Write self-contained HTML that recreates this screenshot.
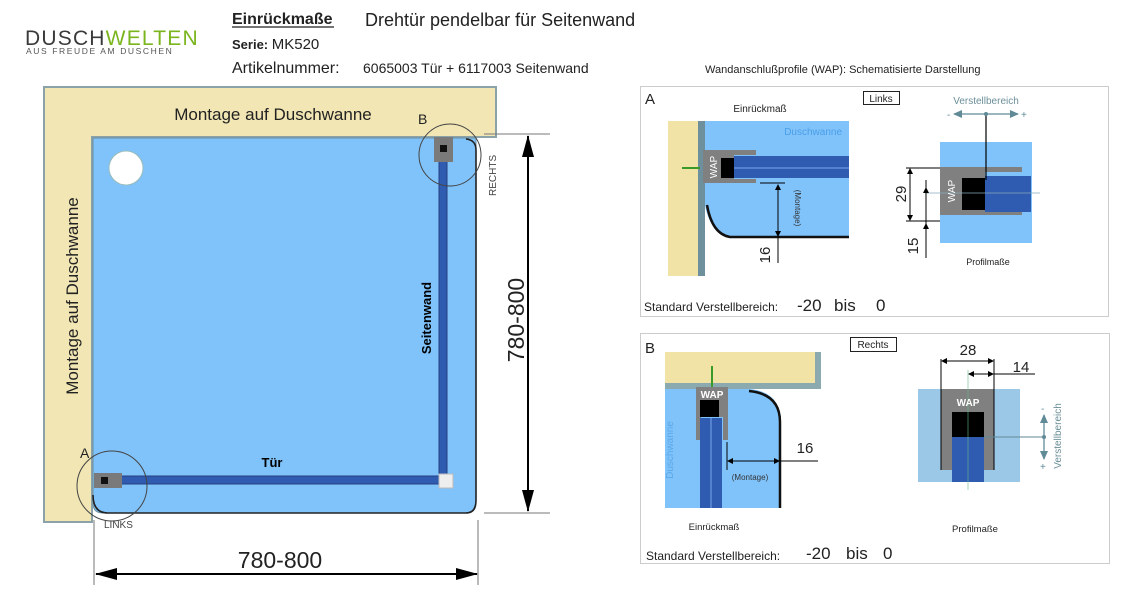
<!DOCTYPE html>
<html><head><meta charset="utf-8"><style>
html,body{margin:0;padding:0;background:#fff;}
svg{display:block;font-family:"Liberation Sans",sans-serif;}
</style></head><body>
<svg width="1146" height="614" viewBox="0 0 1146 614" xmlns="http://www.w3.org/2000/svg">
<defs>
<marker id="ar" markerWidth="10" markerHeight="8" refX="9" refY="4" orient="auto" markerUnits="userSpaceOnUse"><path d="M0,0 L10,4 L0,8 Z" fill="#000"/></marker>
<marker id="ab" markerWidth="22" markerHeight="12" refX="21" refY="6" orient="auto" markerUnits="userSpaceOnUse"><path d="M0,0 L22,6 L0,12 Z" fill="#000"/></marker>
<marker id="as" markerWidth="6" markerHeight="6" refX="5" refY="3" orient="auto" markerUnits="userSpaceOnUse"><path d="M0,0 L6,3 L0,6 Z" fill="#000"/></marker>
<marker id="ag" markerWidth="9" markerHeight="8" refX="8" refY="4" orient="auto" markerUnits="userSpaceOnUse"><path d="M0,0 L9,4 L0,8 Z" fill="#5f8a96"/></marker>
</defs>

<!-- header -->
<text x="25" y="45" font-size="21" fill="#3a3a3a" letter-spacing="1.2">DUSCH<tspan fill="#7ab51d">WELTEN</tspan></text>
<text x="26" y="54" font-size="8.5" fill="#555" letter-spacing="1.6">AUS FREUDE AM DUSCHEN</text>
<text x="232" y="24" font-size="16" font-weight="bold" fill="#222">Einrückmaße</text>
<line x1="232" y1="27" x2="334" y2="27" stroke="#222" stroke-width="1.2"/>
<text x="365" y="26" font-size="18" fill="#222">Drehtür pendelbar für Seitenwand</text>
<text x="232" y="49" font-size="13" font-weight="bold" fill="#222">Serie: <tspan font-weight="normal" font-size="15">MK520</tspan></text>
<text x="232" y="73" font-size="16" fill="#222">Artikelnummer:</text>
<text x="363" y="73" font-size="14" fill="#222">6065003 Tür + 6117003 Seitenwand</text>
<text x="705" y="73" font-size="11" fill="#222">Wandanschlußprofile (WAP): Schematisierte Darstellung</text>

<!-- left plan -->
<path d="M44,87 H496 V137 H92 V522 H44 Z" fill="#f1e6b4" stroke="#8aa2a8" stroke-width="2"/>
<path d="M93,138 H476 V503 Q476,513 466,513 H103 Q93,513 93,503 Z" fill="#80c3fb" stroke="#6d8fa0" stroke-width="1"/>
<path d="M93,495 Q93,513 108,513 H466 Q476,513 476,500 V150 Q476,140 466,139" fill="none" stroke="#222" stroke-width="1.6"/>
<circle cx="126" cy="168" r="17" fill="#fff" stroke="#9bb" stroke-width="1"/>
<text x="273" y="120" font-size="17" fill="#222" text-anchor="middle">Montage auf Duschwanne</text>
<text transform="translate(78,296) rotate(-90)" font-size="17" fill="#222" text-anchor="middle">Montage auf Duschwanne</text>
<!-- walls -->
<rect x="95" y="476" width="350" height="8" fill="#2f5cb0" stroke="#243f80" stroke-width="1"/>
<rect x="439" y="145" width="8" height="333" fill="#2f5cb0" stroke="#243f80" stroke-width="1"/>
<rect x="94" y="473" width="28" height="15" fill="#7a7a7a"/>
<rect x="101" y="477" width="7" height="7" fill="#111"/>
<rect x="434" y="137" width="19" height="25" fill="#7a7a7a"/>
<rect x="440" y="145" width="7" height="7" fill="#111"/>
<rect x="439" y="474" width="14" height="14" fill="#eee" stroke="#bbb"/>
<circle cx="112" cy="486" r="35" fill="none" stroke="#444" stroke-width="1"/>
<circle cx="450" cy="155" r="31" fill="none" stroke="#444" stroke-width="1"/>
<text x="80" y="458" font-size="14" fill="#222">A</text>
<text x="418" y="124" font-size="14" fill="#222">B</text>
<text x="104" y="528" font-size="10" fill="#444">LINKS</text>
<text transform="translate(496,196) rotate(-90)" font-size="10" fill="#444">RECHTS</text>
<text x="272" y="467" font-size="13" font-weight="bold" fill="#000" text-anchor="middle">Tür</text>
<text transform="translate(431,318) rotate(-90)" font-size="13" font-weight="bold" fill="#000" text-anchor="middle">Seitenwand</text>
<!-- dims -->
<line x1="484" y1="134" x2="550" y2="134" stroke="#777"/>
<line x1="484" y1="513" x2="550" y2="513" stroke="#777"/>
<line x1="528" y1="160" x2="528" y2="136" stroke="#000" stroke-width="2" marker-end="url(#ab)"/>
<line x1="528" y1="160" x2="528" y2="511" stroke="#000" stroke-width="2" marker-end="url(#ab)"/>
<text transform="translate(524,320) rotate(-90)" font-size="23" fill="#222" text-anchor="middle">780-800</text>
<line x1="94" y1="520" x2="94" y2="585" stroke="#777"/>
<line x1="478" y1="520" x2="478" y2="585" stroke="#777"/>
<line x1="280" y1="574" x2="96" y2="574" stroke="#000" stroke-width="2" marker-end="url(#ab)"/>
<line x1="280" y1="574" x2="477" y2="574" stroke="#000" stroke-width="2" marker-end="url(#ab)"/>
<text x="280" y="568" font-size="23" fill="#222" text-anchor="middle">780-800</text>

<!-- Panel A -->
<rect x="640.5" y="86.5" width="468" height="230" fill="#fff" stroke="#ccc"/>
<text x="645" y="104" font-size="15" fill="#222">A</text>
<text x="760" y="112" font-size="10" fill="#222" text-anchor="middle">Einrückmaß</text>
<rect x="863.5" y="91.5" width="36" height="13" fill="#fff" stroke="#222"/>
<text x="881" y="102" font-size="10" fill="#222" text-anchor="middle">Links</text>
<rect x="668" y="121" width="32" height="155" fill="#f1e2a6"/>
<rect x="698" y="121" width="7" height="155" fill="#6e8f9c"/>
<path d="M705,121 H849 V237 H705 Z" fill="#80c3fb"/>
<text x="842" y="135" font-size="10" fill="#4a9ee8" text-anchor="end">Duschwanne</text>
<path d="M705,205 Q710,235 735,237 H849 V276 H705 Z" fill="#fff"/>
<path d="M707,205 Q712,234 730,237 H849" fill="none" stroke="#111" stroke-width="2.5"/>
<line x1="682" y1="168" x2="700" y2="168" stroke="#3a9a2a" stroke-width="2"/>
<path d="M703,150 H756 V155 H734 V179 H756 V183 H703 Z" fill="#808080"/>
<rect x="721" y="158" width="13" height="20" fill="#000"/>
<rect x="734" y="156" width="115" height="22" fill="#2f5cb0"/>
<line x1="734" y1="168" x2="849" y2="168" stroke="#7aa7ee" stroke-width="1"/>
<text transform="translate(717,167) rotate(-90)" font-size="10" fill="#fff" text-anchor="middle">WAP</text>
<line x1="760" y1="183" x2="785" y2="183" stroke="#000"/>
<line x1="778" y1="230" x2="778" y2="185" stroke="#000" marker-end="url(#as)"/>
<line x1="778" y1="195" x2="778" y2="236" stroke="#000" marker-end="url(#as)"/>
<line x1="778" y1="236" x2="778" y2="263" stroke="#000"/>
<text transform="translate(795,208) rotate(90)" font-size="8" fill="#333" text-anchor="middle">(Montage)</text>
<text transform="translate(770,255) rotate(-90)" font-size="15" fill="#222" text-anchor="middle">16</text>
<!-- A right -->
<rect x="940" y="142" width="92" height="101" fill="#80c3fb"/>
<path d="M940,167 H1022 V172 H985 V210 H1022 V215 H940 Z" fill="#808080"/>
<rect x="962" y="178" width="23" height="32" fill="#000"/>
<rect x="985" y="176" width="46" height="36" fill="#2f5cb0"/>
<line x1="925" y1="193" x2="1040" y2="193" stroke="#8ab" stroke-width="0.8"/>
<text transform="translate(955,191) rotate(-90)" font-size="10" fill="#fff" text-anchor="middle">WAP</text>
<line x1="986" y1="114" x2="986" y2="180" stroke="#000" stroke-width="1.2"/>
<text x="986" y="104" font-size="10" fill="#6b8f98" text-anchor="middle">Verstellbereich</text>
<line x1="986" y1="114" x2="954" y2="114" stroke="#5f8a96" stroke-width="1.3" marker-end="url(#ag)"/>
<line x1="986" y1="114" x2="1018" y2="114" stroke="#5f8a96" stroke-width="1.3" marker-end="url(#ag)"/>
<circle cx="986" cy="114" r="2" fill="#5f8a96"/>
<text x="947" y="118" font-size="10" fill="#5f8a96">-</text>
<text x="1021" y="118" font-size="10" fill="#5f8a96">+</text>
<line x1="906" y1="168" x2="940" y2="168" stroke="#000"/>
<line x1="906" y1="221" x2="940" y2="221" stroke="#000"/>
<line x1="910" y1="190" x2="910" y2="169" stroke="#000" marker-end="url(#as)"/>
<line x1="910" y1="190" x2="910" y2="220" stroke="#000" marker-end="url(#as)"/>
<line x1="926" y1="180" x2="926" y2="258" stroke="#000"/>
<line x1="926" y1="190" x2="926" y2="188" stroke="#000" marker-end="url(#as)"/>
<line x1="926" y1="228" x2="926" y2="224" stroke="#000" marker-end="url(#as)"/>
<text transform="translate(906,194) rotate(-90)" font-size="15" fill="#222" text-anchor="middle">29</text>
<text transform="translate(918,246) rotate(-90)" font-size="15" fill="#222" text-anchor="middle">15</text>
<text x="988" y="265" font-size="9" fill="#222" text-anchor="middle">Profilmaße</text>
<text x="644" y="311" font-size="12" fill="#222">Standard Verstellbereich:</text>
<text x="797" y="311" font-size="17" fill="#222">-20</text>
<text x="834" y="311" font-size="17" fill="#222">bis</text>
<text x="876" y="311" font-size="17" fill="#222">0</text>

<!-- Panel B -->
<rect x="640.5" y="333.5" width="469" height="230" fill="#fff" stroke="#ccc"/>
<text x="645" y="353" font-size="15" fill="#222">B</text>
<rect x="850.5" y="337.5" width="46" height="14" fill="#fff" stroke="#222"/>
<text x="873" y="348" font-size="10" fill="#222" text-anchor="middle">Rechts</text>
<rect x="665" y="352" width="156" height="33" fill="#f1e2a6"/>
<path d="M665,383 H815 V352 H821 V389 H665 Z" fill="#8aaab0"/>
<path d="M665,389 H750 Q780,392 780,420 V508 H665 Z" fill="#80c3fb"/>
<path d="M749,391 Q780,394 780,422 V508" fill="none" stroke="#111" stroke-width="2.5"/>
<line x1="712" y1="366" x2="712" y2="387" stroke="#3a9a2a" stroke-width="2"/>
<path d="M696,387 H728 V440 H723 V417 H701 V440 H696 Z" fill="#808080"/>
<rect x="700" y="400" width="19" height="17" fill="#000"/>
<rect x="700" y="418" width="22" height="90" fill="#2f5cb0"/>
<line x1="711" y1="418" x2="711" y2="508" stroke="#7aa7ee" stroke-width="1"/>
<text x="712" y="398" font-size="10" fill="#fff" font-weight="bold" text-anchor="middle">WAP</text>
<text transform="translate(673,450) rotate(-90)" font-size="10" fill="#5aa8e8" text-anchor="middle">Duschwanne</text>
<line x1="727" y1="442" x2="727" y2="470" stroke="#000"/>
<line x1="750" y1="461" x2="728" y2="461" stroke="#000" marker-end="url(#as)"/>
<line x1="750" y1="461" x2="779" y2="461" stroke="#000" marker-end="url(#as)"/>
<line x1="779" y1="461" x2="818" y2="461" stroke="#000"/>
<text x="805" y="453" font-size="15" fill="#222" text-anchor="middle">16</text>
<text x="750" y="480" font-size="8" fill="#333" text-anchor="middle">(Montage)</text>
<text x="714" y="530" font-size="9.5" fill="#222" text-anchor="middle">Einrückmaß</text>
<!-- B right -->
<rect x="918" y="389" width="102" height="93" fill="#9cc8e8"/>
<path d="M941,389 H994 V470 H984 V412 H952 V470 H941 Z" fill="#808080"/>
<rect x="952" y="412" width="32" height="25" fill="#000"/>
<rect x="952" y="437" width="32" height="45" fill="#2f5cb0"/>
<line x1="968" y1="370" x2="968" y2="490" stroke="#6b8" stroke-width="0.6"/>
<text x="968" y="406" font-size="10" fill="#fff" font-weight="bold" text-anchor="middle">WAP</text>
<line x1="941" y1="359" x2="941" y2="470" stroke="#000"/>
<line x1="994" y1="359" x2="994" y2="470" stroke="#000"/>
<line x1="968" y1="361" x2="942" y2="361" stroke="#000" marker-end="url(#as)"/>
<line x1="968" y1="361" x2="993" y2="361" stroke="#000" marker-end="url(#as)"/>
<line x1="980" y1="374" x2="969" y2="374" stroke="#000" marker-end="url(#as)"/>
<line x1="980" y1="374" x2="993" y2="374" stroke="#000" marker-end="url(#as)"/>
<line x1="994" y1="374" x2="1035" y2="374" stroke="#000"/>
<text x="968" y="355" font-size="15" fill="#222" text-anchor="middle">28</text>
<text x="1021" y="372" font-size="15" fill="#222" text-anchor="middle">14</text>
<line x1="984" y1="437" x2="1044" y2="437" stroke="#5f8a96" stroke-width="1"/>
<line x1="1044" y1="437" x2="1044" y2="415" stroke="#5f8a96" stroke-width="1.3" marker-end="url(#ag)"/>
<line x1="1044" y1="437" x2="1044" y2="459" stroke="#5f8a96" stroke-width="1.3" marker-end="url(#ag)"/>
<circle cx="1044" cy="437" r="2" fill="#5f8a96"/>
<text transform="translate(1061,436) rotate(-90)" font-size="10" fill="#6b8f98" text-anchor="middle">Verstellbereich</text>
<text x="1041" y="412" font-size="10" fill="#5f8a96">-</text>
<text x="1040" y="470" font-size="10" fill="#5f8a96">+</text>
<text x="975" y="532" font-size="9.5" fill="#222" text-anchor="middle">Profilmaße</text>
<text x="646" y="560" font-size="12" fill="#222">Standard Verstellbereich:</text>
<text x="806" y="559" font-size="17" fill="#222">-20</text>
<text x="846" y="559" font-size="17" fill="#222">bis</text>
<text x="883" y="559" font-size="17" fill="#222">0</text>
</svg>
</body></html>
